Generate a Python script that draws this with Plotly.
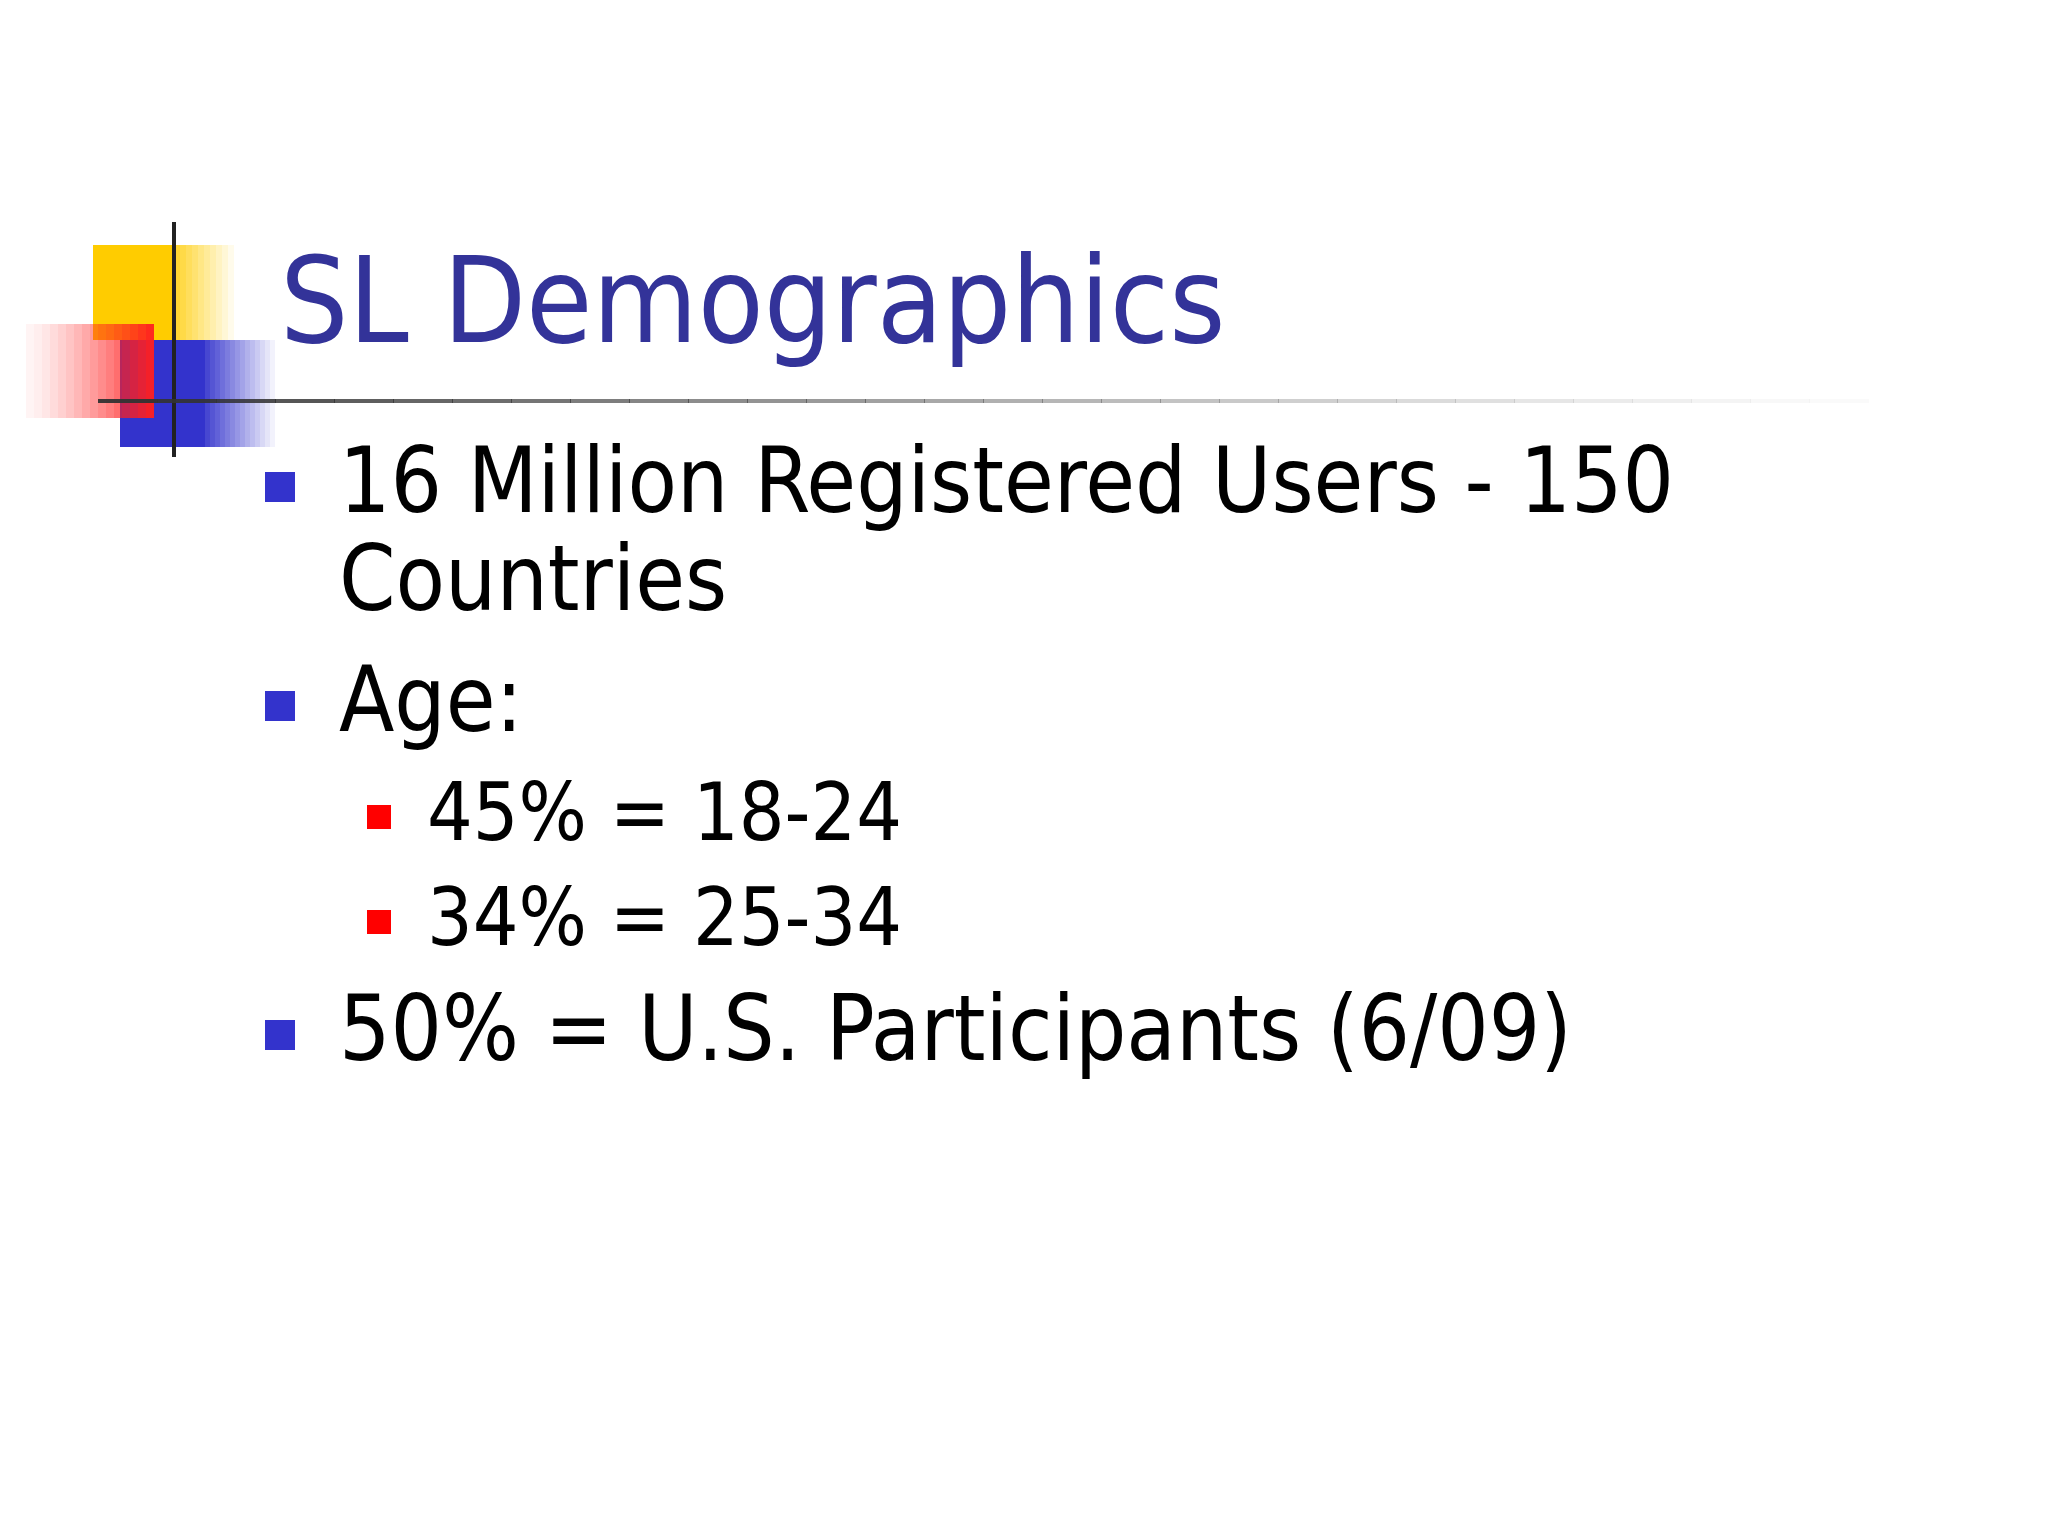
import plotly.graph_objects as go

W, H = 2048, 1536
title = "SL Demographics"
bullet_texts = ["16 Million Registered Users - 150", "Age:", "50% = U.S. Participants (6/09)"]
continuation_texts = ["Countries"]
sub_texts = ["45% = 18-24", "34% = 25-34"]

FONT = "DejaVu Sans Condensed, DejaVu Sans"
dx, dy = -8, -8

fig = go.Figure()
shapes = []
annots = []

shapes.append(dict(type="rect", x0=93+dx, x1=174+dx, y0=245+dy, y1=340+dy, fillcolor="#FFCC00", line_width=0, layer="below"))
for i in range(10):
    shapes.append(dict(type="rect", x0=174+dx + i*6, x1=180+dx + i*6, y0=245+dy, y1=340+dy,
                       fillcolor="#FFCC00", opacity=0.8*(1 - i/10), line_width=0, layer="below"))
shapes.append(dict(type="rect", x0=120+dx, x1=205+dx, y0=340+dy, y1=447+dy, fillcolor="#3333CC", line_width=0, layer="below"))
for i in range(14):
    shapes.append(dict(type="rect", x0=205+dx + i*5, x1=210+dx + i*5, y0=340+dy, y1=447+dy,
                       fillcolor="#3333CC", opacity=0.9*(1 - i/14), line_width=0, layer="below"))
for i in range(16):
    shapes.append(dict(type="rect", x0=26+dx + i*8, x1=34+dx + i*8, y0=324+dy, y1=418+dy,
                       fillcolor="#FF2020", opacity=0.05 + 0.9*(i/15)**1.3, line_width=0, layer="below"))
shapes.append(dict(type="line", x0=174+dx, x1=174+dx, y0=222+dy, y1=457+dy, line=dict(color="#222222", width=4)))
for i in range(30):
    x0 = 98+dx + i*59
    shapes.append(dict(type="line", x0=x0, x1=x0+60, y0=401+dy, y1=401+dy,
                       line=dict(color="#333333", width=4), opacity=max(0.02, 0.95*(1 - i/30)**1.3)))

annots.append(dict(x=278+dx, y=300+dy, text=title, showarrow=False, xanchor="left", yanchor="middle",
                   font=dict(family=FONT, size=120, color="#333399")))

blue_y = [486, 705, 1034]
for t, y in zip(bullet_texts, blue_y):
    y = y + dy
    shapes.append(dict(type="rect", x0=265+dx, x1=295+dx, y0=y-14, y1=y+16, fillcolor="#3333CC", line_width=0))
    annots.append(dict(x=337+dx, y=y - 6, text=t, showarrow=False, xanchor="left", yanchor="middle",
                       font=dict(family=FONT, size=90, color="#000000")))
annots.append(dict(x=337+dx, y=584+dy - 6, text=continuation_texts[0], showarrow=False, xanchor="left", yanchor="middle",
                   font=dict(family=FONT, size=90, color="#000000")))

sub_y = [816, 921]
for t, y in zip(sub_texts, sub_y):
    y = y + dy
    shapes.append(dict(type="rect", x0=367+dx, x1=391+dx, y0=y-11, y1=y+13, fillcolor="#FF0000", line_width=0))
    annots.append(dict(x=425+dx, y=y - 4, text=t, showarrow=False, xanchor="left", yanchor="middle",
                       font=dict(family=FONT, size=80, color="#000000")))

fig.update_layout(width=W, height=H, margin=dict(l=0, r=0, t=0, b=0),
                  paper_bgcolor="#FFFFFF", plot_bgcolor="#FFFFFF",
                  xaxis=dict(range=[0, W], visible=False, fixedrange=True),
                  yaxis=dict(range=[H, 0], visible=False, fixedrange=True),
                  shapes=shapes, annotations=annots, showlegend=False)
fig.write_html("out.html", config={"displayModeBar": False})
